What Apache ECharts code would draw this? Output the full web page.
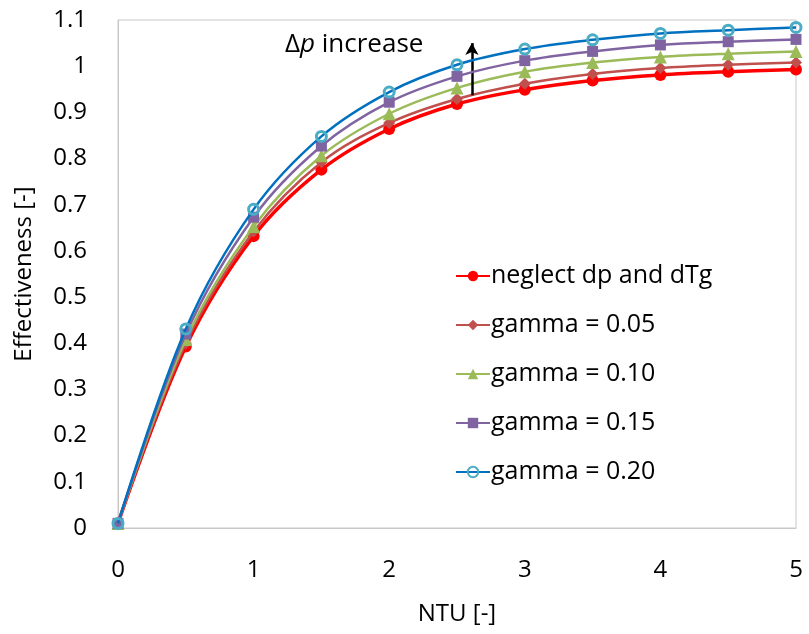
<!DOCTYPE html>
<html><head><meta charset="utf-8">
<script src="https://cdn.jsdelivr.net/npm/echarts@6/dist/echarts.min.js"></script>
<style>html,body{margin:0;padding:0;background:#fff}#c{width:809px;height:634px}</style>
</head><body><div id="c"></div>
<script>
const ntu = [0, 0.5, 1, 1.5, 2, 2.5, 3, 3.5, 4, 4.5, 5];
const neglect = [0.01, 0.393, 0.632, 0.776, 0.864, 0.918, 0.949, 0.969, 0.981, 0.988, 0.993];
const gamma005 = [0.01, 0.400, 0.642, 0.792, 0.877, 0.929, 0.962, 0.983, 0.996, 1.003, 1.008];
const gamma010 = [0.01, 0.408, 0.653, 0.806, 0.897, 0.953, 0.988, 1.008, 1.020, 1.027, 1.032];
const gamma015 = [0.01, 0.420, 0.673, 0.827, 0.922, 0.978, 1.012, 1.032, 1.046, 1.053, 1.058];
const gamma020 = [0.01, 0.431, 0.690, 0.848, 0.944, 1.003, 1.037, 1.057, 1.071, 1.078, 1.084];
const seriesNames = ['neglect dp and dTg', 'gamma = 0.05', 'gamma = 0.10', 'gamma = 0.15', 'gamma = 0.20'];
const arrowX = 2.61, arrowY0 = 0.937, arrowY1 = 1.05;
const annText = 'increase';

const FONT = 'Open Sans';
function pairs(ys){ return ntu.map((x,i)=>[x, ys[i]]); }

const styles = [
  {line:'#ff0000', mk:'#ff0000', sym:'circle', size:12, w:3.5},
  {line:'#c0504d', mk:'#c0504d', sym:'diamond', size:12, w:2.5},
  {line:'#9bbb59', mk:'#9bbb59', sym:'triangle', size:13, w:2.5},
  {line:'#8064a2', mk:'#8064a2', sym:'rect', size:11, w:2.5},
  {line:'#0070c0', mk:'#4bacc6', sym:'open', size:10, w:2.5}
];
const datas = [neglect, gamma005, gamma010, gamma015, gamma020];

const series = datas.map((d,i)=>({
  name: seriesNames[i], type:'line', smooth:0.35, data: pairs(d),
  symbol: styles[i].sym==='open' ? 'circle' : styles[i].sym, symbolSize: styles[i].size,
  lineStyle:{color:styles[i].line, width:styles[i].w},
  itemStyle: styles[i].sym==='open'
    ? {color:'rgba(255,255,255,0)', borderColor:styles[i].mk, borderWidth:3}
    : {color:styles[i].mk},
  z: 2 + i
}));
series.push({
  type:'line', data:[], silent:true,
  markLine:{
    silent:true, symbol:['none','arrow'], symbolSize:[10,12],
    lineStyle:{color:'#000', width:2.5, type:'solid'},
    label:{show:false},
    data:[[{coord:[arrowX, arrowY0]},{coord:[arrowX, arrowY1]}]]
  }
});

const chart = echarts.init(document.getElementById('c'));
chart.setOption({
  animation:false,
  grid:{left:118, top:20, right:13, bottom:106, show:true, borderColor:'#c8c8c8', borderWidth:1},
  legend:{
    orient:'vertical', left:450, top:255, itemGap:17, itemWidth:34, itemHeight:13,
    data: seriesNames,
    textStyle:{fontFamily:FONT, fontSize:25, color:'#000', padding:[0,0,0,-4], lineHeight:32}
  },
  xAxis:{
    type:'value', min:0, max:5, interval:1,
    name:'NTU [-]', nameLocation:'middle', nameGap:74,
    nameTextStyle:{fontFamily:FONT, fontSize:24, color:'#000'},
    axisLine:{lineStyle:{color:'#c8c8c8'}}, axisTick:{show:false}, splitLine:{show:false},
    axisLabel:{fontFamily:FONT, fontSize:24, color:'#000', margin:30}
  },
  yAxis:{
    type:'value', min:0, max:1.1, interval:0.1,
    name:'Effectiveness [-]', nameLocation:'middle', nameGap:82, nameRotate:90,
    nameTextStyle:{fontFamily:FONT, fontSize:24, color:'#000'},
    axisLine:{show:true, lineStyle:{color:'#c8c8c8'}}, axisTick:{show:false}, splitLine:{show:false},
    axisLabel:{fontFamily:FONT, fontSize:24, color:'#000', margin:31, formatter:v=>String(parseFloat(v.toFixed(1)))}
  },
  graphic:[{
    type:'text', left:285, top:32, z:10,
    style:{
      text:'{d|Δ}{p|p}  {t|'+annText+'}',
      rich:{
        d:{fontFamily:FONT, fontSize:26, fill:'#000'},
        p:{fontFamily:FONT, fontSize:26, fontStyle:'italic', fill:'#000'},
        t:{fontFamily:FONT, fontSize:26, fill:'#000'}
      }
    }
  }],
  series: series
});
</script></body></html>
